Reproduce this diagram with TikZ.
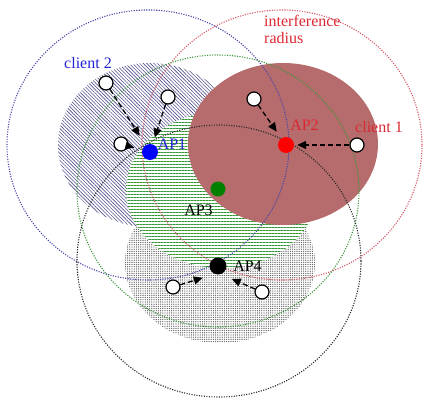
\documentclass[tikz,border=0pt]{standalone}
\usepackage{fontspec}
\setmainfont{Liberation Serif}
\usetikzlibrary{arrows.meta,patterns.meta}
\definecolor{txtblue}{RGB}{35,35,215}
\definecolor{txtred}{RGB}{220,40,50}
\definecolor{regred}{RGB}{182,108,108}
\definecolor{hatchblue}{RGB}{80,80,140}
\definecolor{hatchgreen}{RGB}{50,150,50}
\definecolor{dotgray}{RGB}{90,90,90}
\definecolor{cblue}{RGB}{70,70,170}
\definecolor{cred}{RGB}{215,85,100}
\definecolor{cgreen}{RGB}{60,150,60}
\definecolor{cblack}{RGB}{40,40,40}
\begin{document}
\begin{tikzpicture}[x=1pt,y=-1pt,
  lbl/.style={font=\fontsize{16}{17}\selectfont, inner sep=0pt},
  ring/.style={line width=1.1pt, dash pattern=on 1.1pt off 1.4pt},
  apdot/.style={circle, minimum size=16pt, inner sep=0pt},
  client/.style={circle, draw=black, fill=white, line width=1.2pt, minimum size=14pt, inner sep=0pt},
  link/.style={line width=1.3pt, dash pattern=on 5pt off 3pt, -{Triangle[length=9pt,width=8pt]}}]
\useasboundingbox (0,0) rectangle (423,401);
% shaded ranges
\fill[pattern={Lines[angle=-45,distance=2.5pt,line width=0.6pt]}, pattern color=hatchblue] (150,145) ellipse [x radius=92pt, y radius=82pt];
\fill[pattern={Dots[distance=2.2pt,radius=0.65pt]}, pattern color=dotgray] (220,263) ellipse [x radius=95pt, y radius=80pt];
\fill[white] (222,190) ellipse [x radius=96pt, y radius=78pt];
\fill[pattern={Lines[angle=0,distance=3pt,line width=0.65pt]}, pattern color=hatchgreen] (222,190) ellipse [x radius=96pt, y radius=78pt];
\fill[regred] (283,144) ellipse [x radius=95pt, y radius=81pt];
% interference radii
\draw[ring, cblue] (148,145) ellipse [x radius=141pt, y radius=135pt];
\draw[ring, cred] (282,145) ellipse [x radius=140pt, y radius=135pt];
\draw[ring, cgreen] (218,191) ellipse [x radius=141pt, y radius=136pt];
\draw[ring, cblack] (219,261) ellipse [x radius=142pt, y radius=136pt];
% access points
\node[apdot, fill=blue] (ap1) at (150,152) {};
\node[apdot, fill=red] (ap2) at (286,145) {};
\node[apdot, fill=green!50!black, minimum size=15pt] (ap3) at (218,189) {};
\node[apdot, fill=black, minimum size=17pt] (ap4) at (218,266) {};
\coordinate (ap4in) at (218,273);
% clients
\node[client] (c21) at (106,83) {};
\node[client] (c22) at (168,97) {};
\node[client] (c23) at (121,144) {};
\node[client] (c11) at (254,99) {};
\node[client] (c12) at (357,145) {};
\node[client] (c41) at (173,287) {};
\node[client] (c42) at (262,292) {};
% links
\draw[link, shorten >=11pt] (c21) -- (ap1);
\draw[link, shorten >=7pt] (c22) -- (ap1);
\draw[link, shorten >=8pt] (c23) -- (ap1);
\draw[link, shorten >=8pt] (c11) -- (ap2);
\draw[link, shorten >=3pt] (c12) -- (ap2);
\draw[link, shorten >=16pt] (c41) -- (ap4in);
\draw[link, shorten >=15pt] (c42) -- (ap4in);
% labels
\node[lbl, text=txtblue] (l1) at (172,144) {AP1};
\node[lbl, text=txtred] (l2) at (304.5,125) {AP2};
\node[lbl] (l3) at (198.5,210) {AP3};
\node[lbl] (l4) at (247.5,266) {AP4};
\node[lbl, text=txtblue] (lc2) at (88,63) {client 2};
\node[lbl, text=txtred] (lc1) at (379,127) {client 1};
\node[lbl, text=txtred, anchor=west, align=left] (lir) at (264,29.5) {interference\\radius};
\end{tikzpicture}
\end{document}
